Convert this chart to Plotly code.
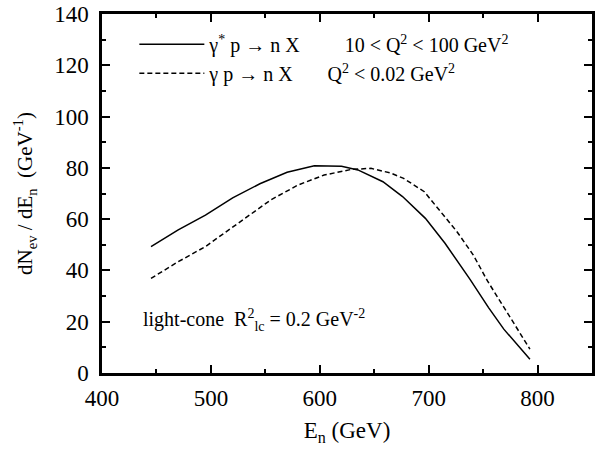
import plotly.graph_objects as go

energy_dis = [445, 470, 495, 520, 545, 570, 595, 620, 635, 658, 676, 697, 715, 738, 755, 769, 793]
dis_rate = [49.3, 55.8, 61.6, 68.3, 73.8, 78.3, 80.8, 80.6, 79.2, 74.6, 68.8, 60.3, 50.6, 36.5, 25.5, 17.1, 5.4]
energy_photo = [445, 470, 495, 525, 555, 580, 604, 629, 647, 665, 677, 696, 711, 726, 741, 754, 775, 793]
photo_rate = [36.9, 43.4, 49.3, 58.4, 67.5, 73.3, 77.2, 79.4, 79.8, 78.0, 75.9, 70.7, 62.9, 55.1, 46.0, 35.9, 21.6, 9.3]

x_ticks = [400, 500, 600, 700, 800]
y_ticks = [0, 20, 40, 60, 80, 100, 120, 140]

SP = "\u00a0"
label_dis = "γ<sup>*</sup> p → n X" + SP * 9 + "10 < Q<sup>2</sup> < 100 GeV<sup>2</sup>"
label_photo = "γ p → n X" + SP * 7 + "Q<sup>2</sup> < 0.02 GeV<sup>2</sup>"

FONT = "Liberation Serif, Times New Roman, serif"

fig = go.Figure()
fig.add_trace(go.Scatter(x=energy_dis, y=dis_rate, mode="lines", name=label_dis,
                         line=dict(color="black", width=1.5)))
fig.add_trace(go.Scatter(x=energy_photo, y=photo_rate, mode="lines", name=label_photo,
                         line=dict(color="black", width=1.5, dash="5px,3px")))

axis_common = dict(showline=True, linewidth=2.5, linecolor="black", mirror="allticks",
                   ticks="inside", ticklen=8, tickwidth=2, tickcolor="black",
                   showgrid=False, zeroline=False,
                   tickfont=dict(family=FONT, size=23, color="black"))

fig.update_xaxes(range=[400, 850], tickvals=x_ticks, ticktext=[str(v) for v in x_ticks],
                 minor=dict(dtick=50, tick0=400, ticks="inside", ticklen=4, tickwidth=2, tickcolor="black"),
                 ticklabelstandoff=3,
                 title=dict(text="E<sub>n</sub> (GeV)", font=dict(family=FONT, size=23, color="black"), standoff=12),
                 **axis_common)
fig.update_yaxes(range=[0, 140], tickvals=y_ticks, ticktext=[str(v) for v in y_ticks],
                 minor=dict(dtick=10, tick0=0, ticks="inside", ticklen=4, tickwidth=2, tickcolor="black"),
                 ticklabelstandoff=6,
                 title=dict(text="dN<sub>ev</sub> / dE<sub>n</sub>" + SP * 2 + "(GeV<sup>-1</sup>)",
                            font=dict(family=FONT, size=21, color="black"), standoff=16),
                 **axis_common)

fig.add_annotation(x=0.08, y=0.148, xref="paper", yref="paper", xanchor="left", yanchor="middle",
                   text="light-cone" + SP * 2 + "R<sup>2</sup><sub>lc</sub> = 0.2 GeV<sup>-2</sup>", showarrow=False,
                   font=dict(family=FONT, size=20, color="black"))

fig.update_layout(
    width=595, height=450,
    margin=dict(l=102, r=0, t=14, b=77),
    plot_bgcolor="white", paper_bgcolor="white",
    legend=dict(x=0.066, y=0.97, xanchor="left", yanchor="top", bgcolor="rgba(0,0,0,0)",
                font=dict(family=FONT, size=20, color="black"), itemwidth=65, tracegroupgap=0),
    showlegend=True,
)

fig.write_html("out.html", config={"displayModeBar": False},
               post_script="document.body.style.margin='0';document.body.style.overflow='hidden';")
